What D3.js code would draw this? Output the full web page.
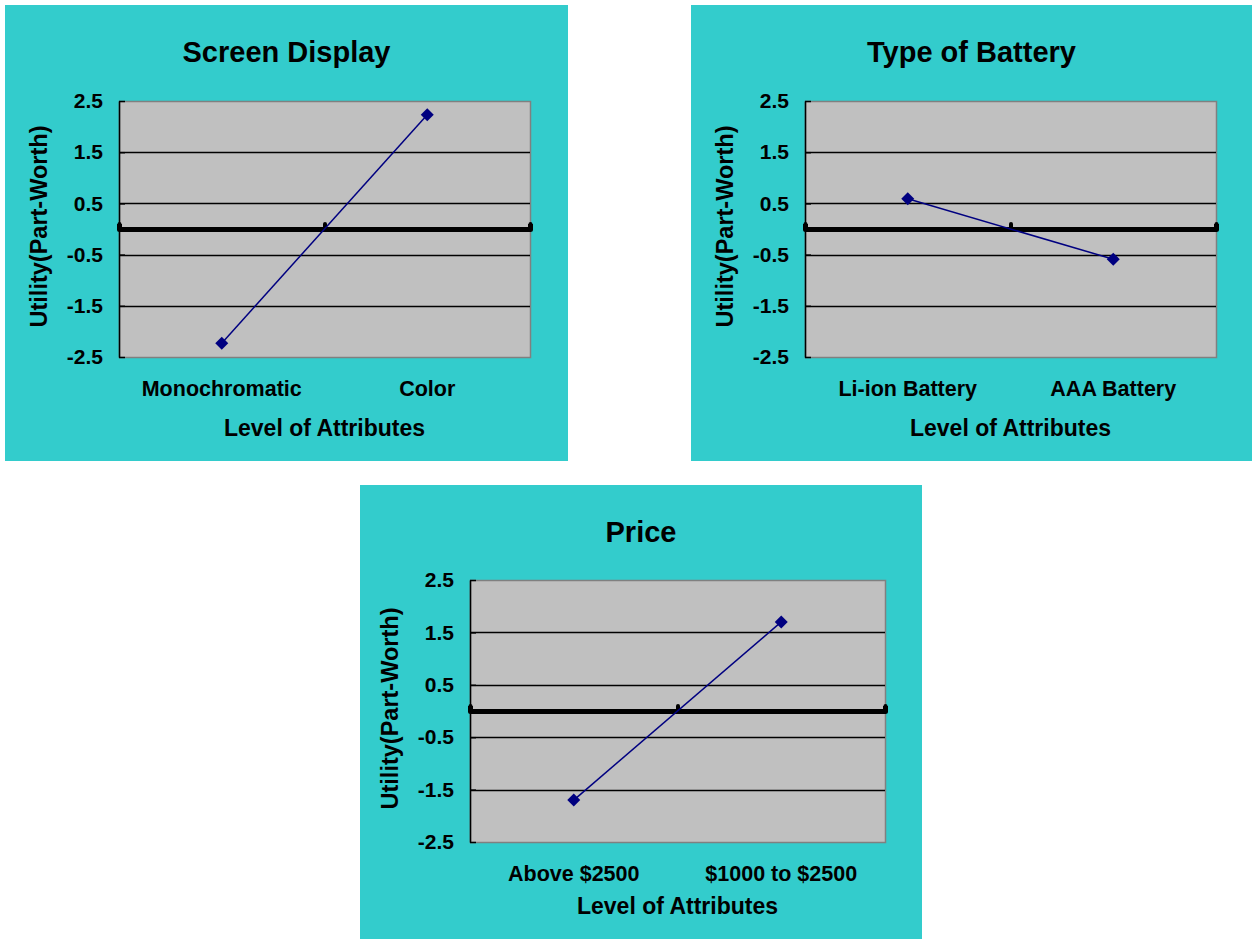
<!DOCTYPE html>
<html>
<head>
<meta charset="utf-8">
<script src="https://cdn.jsdelivr.net/npm/d3@7"></script>
<style>
  html, body { margin: 0; padding: 0; background: #ffffff; }
  svg { display: block; }
  text { font-family: "Liberation Sans", Arial, sans-serif; font-weight: bold; fill: #000; }
</style>
</head>
<body>
<svg id="chart" width="1252" height="940"></svg>
<script>
// Part-worth utilities per attribute
const screenLevels = ['Monochromatic', 'Color'];
const screenUtility = [-2.23, 2.23];

const batteryLevels = ['Li-ion Battery', 'AAA Battery'];
const batteryUtility = [0.59, -0.59];

const priceLevels = ['Above $2500', '$1000 to $2500'];
const priceUtility = [-1.7, 1.7];

const yTicks = [2.5, 1.5, 0.5, -0.5, -1.5, -2.5];

const yTitle = 'Utility(Part-Worth)';
const xTitle = 'Level of Attributes';

// Panel placement on the page
const panels = [
  { title: 'Screen Display', levels: screenLevels, values: screenUtility,
    x: 5, y: 5, w: 563, h: 456, plot: { left: 114, top: 96, width: 411, height: 256 } },
  { title: 'Type of Battery', levels: batteryLevels, values: batteryUtility,
    x: 691, y: 5, w: 561, h: 456, plot: { left: 114, top: 96, width: 411, height: 256 } },
  { title: 'Price', levels: priceLevels, values: priceUtility,
    x: 360, y: 485, w: 562, h: 454, plot: { left: 110, top: 95, width: 415, height: 262 } }
];

const svg = d3.select('#chart');

function drawPanel(cfg) {
  const g = svg.append('g')
    .attr('transform', `translate(${cfg.x},${cfg.y})`);

  g.append('rect')
    .attr('width', cfg.w)
    .attr('height', cfg.h)
    .attr('fill', '#33CCCC');

  const m = cfg.plot;
  const plot = g.append('g')
    .attr('transform', `translate(${m.left},${m.top})`);

  const y = d3.scaleLinear().domain([-2.5, 2.5]).range([m.height, 0]);
  const x = d3.scaleLinear().domain([0, cfg.levels.length]).range([0, m.width]);

  // Plot area
  plot.append('rect')
    .attr('x', 0.5)
    .attr('y', 0.5)
    .attr('width', m.width)
    .attr('height', m.height)
    .attr('fill', '#C0C0C0')
    .attr('stroke', '#808080')
    .attr('stroke-width', 1.5);

  // Grid lines
  plot.append('g')
    .selectAll('line')
    .data(yTicks.filter(t => Math.abs(t) < 2.5))
    .join('line')
    .attr('x1', 0)
    .attr('x2', m.width)
    .attr('y1', d => Math.round(y(d)) + 0.5)
    .attr('y2', d => Math.round(y(d)) + 0.5)
    .attr('stroke', '#000')
    .attr('stroke-width', 1.5);

  // Y axis
  const yAxisG = plot.append('g')
    .call(d3.axisLeft(y)
      .tickValues(yTicks)
      .tickSizeInner(-6)
      .tickSizeOuter(0)
      .tickPadding(16)
      .tickFormat(d => d.toFixed(1)));

  yAxisG.select('.domain').attr('stroke', '#000').attr('stroke-width', 1.5);
  yAxisG.selectAll('.tick line').attr('stroke', '#000').attr('stroke-width', 1.5);
  yAxisG.selectAll('text')
    .attr('font-size', 21)
    .attr('font-family', null)
    .attr('fill', '#000');

  // Category axis crossing at zero
  const xAxisG = plot.append('g')
    .attr('transform', `translate(0,${y(0)})`)
    .call(d3.axisBottom(x)
      .tickValues(d3.range(cfg.levels.length + 1))
      .tickSize(-5)
      .tickFormat(''));

  xAxisG.select('.domain')
    .attr('stroke', '#000')
    .attr('stroke-width', 5)
    .attr('stroke-linejoin', 'round');
  xAxisG.selectAll('.tick line')
    .attr('stroke', '#000')
    .attr('stroke-width', 4)
    .attr('stroke-linecap', 'round');

  // Category labels (placed below the plot area)
  plot.append('g')
    .selectAll('text')
    .data(cfg.levels)
    .join('text')
    .attr('x', (d, i) => x(i + 0.5))
    .attr('y', m.height + 38.5)
    .attr('text-anchor', 'middle')
    .attr('font-size', 21.5)
    .text(d => d);

  // Utility line
  const line = d3.line()
    .x((d, i) => x(i + 0.5))
    .y(d => y(d));

  plot.append('path')
    .datum(cfg.values)
    .attr('d', line)
    .attr('fill', 'none')
    .attr('stroke', '#000080')
    .attr('stroke-width', 1.5);

  // Diamond markers
  plot.append('g')
    .selectAll('path')
    .data(cfg.values)
    .join('path')
    .attr('d', d3.symbol(d3.symbolSquare, 85))
    .attr('transform', (d, i) => `translate(${x(i + 0.5)},${y(d)}) rotate(45)`)
    .attr('fill', '#000080');

  // Titles
  g.append('text')
    .attr('x', cfg.w / 2)
    .attr('y', 57)
    .attr('text-anchor', 'middle')
    .attr('font-size', 29)
    .text(cfg.title);

  g.append('text')
    .attr('x', m.left + m.width / 2)
    .attr('y', cfg.h - 25)
    .attr('text-anchor', 'middle')
    .attr('font-size', 23)
    .text(xTitle);

  g.append('text')
    .attr('transform', `translate(${m.left - 72},${m.top + m.height / 2 - 2.5}) rotate(-90)`)
    .attr('text-anchor', 'middle')
    .attr('font-size', 23.5)
    .text(yTitle);
}

panels.forEach(drawPanel);
</script>
</body>
</html>
